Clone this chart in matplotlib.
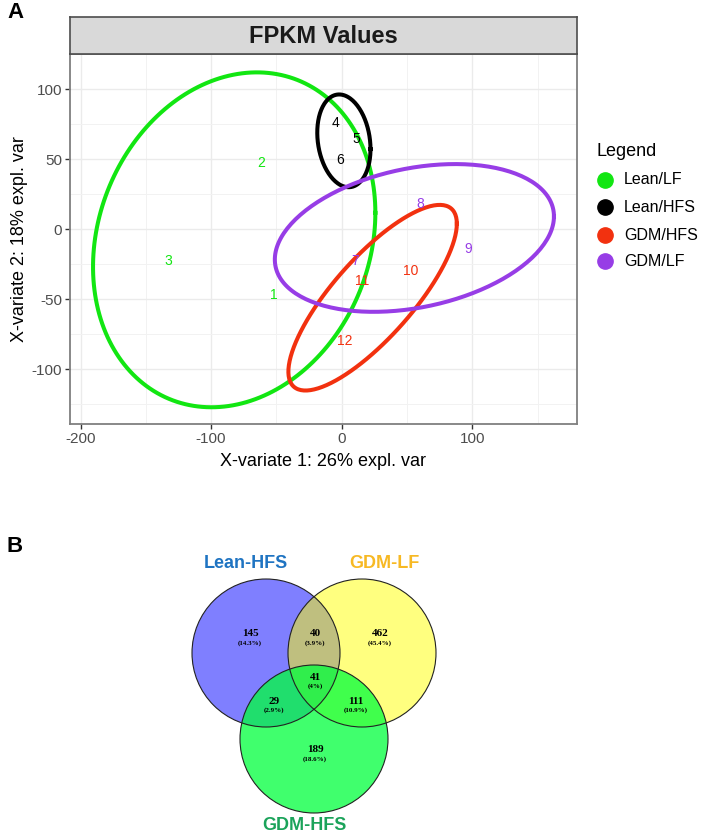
import numpy as np
import matplotlib
matplotlib.use('Agg')
import matplotlib.pyplot as plt
from matplotlib.patches import Circle

plt.rcParams['font.family'] = ['Liberation Sans', 'DejaVu Sans']
plt.rcParams['axes.unicode_minus'] = False

# ---- panel A data: sample scores on the two X-variates ----
sample_ids = ['1', '2', '3', '4', '5', '6', '7', '8', '9', '10', '11', '12']
xvar1 = [-52, -62, -133, -5, 11, -1, 10, 60, 97, 53, 16, 2]
xvar2 = [-47, 47, -23, 76, 64, 49, -23, 18, -14, -30, -37, -80]
groups = ['Lean/LF'] * 3 + ['Lean/HFS'] * 3 + ['GDM/LF'] * 3 + ['GDM/HFS'] * 3

legend_order = ['Lean/LF', 'Lean/HFS', 'GDM/HFS', 'GDM/LF']
group_colors = {'Lean/LF': '#12E612', 'Lean/HFS': '#000000',
                'GDM/HFS': '#F2310F', 'GDM/LF': '#973DE6'}

# ---- panel B data: venn counts ----
venn_names = ['Lean-HFS', 'GDM-LF', 'GDM-HFS']
venn_name_colors = ['#1F74C2', '#F7B924', '#1BA35A']
region_counts = [145, 40, 462, 29, 41, 111, 189]


def conf_ellipse(xs, ys, level=0.95, n=200):
    pts = np.column_stack([xs, ys]).astype(float)
    c = pts.mean(axis=0)
    cov = np.cov(pts.T)
    r = np.sqrt(-2 * np.log(1 - level))  # chi2 quantile, 2 dof
    L = np.linalg.cholesky(cov)
    t = np.linspace(0, 2 * np.pi, n)
    circ = np.vstack([np.cos(t), np.sin(t)])
    e = (L @ circ) * r
    return c[0] + e[0], c[1] + e[1]


fig = plt.figure(figsize=(7.14, 8.35), dpi=100)
W, H = 714, 835

ax = fig.add_axes([70 / W, 1 - 424 / H, 507 / W, 370 / H])
strip = fig.add_axes([70 / W, 1 - 54 / H, 507 / W, 37 / H])

xv = np.array(xvar1)
yv = np.array(xvar2)
gr = np.array(groups)
allx, ally = [], []
for g in legend_order:
    m = gr == g
    ex, ey = conf_ellipse(xv[m], yv[m])
    allx.append(ex)
    ally.append(ey)
    ax.plot(ex, ey, color=group_colors[g], lw=2.9, zorder=3)

for sid, x, y, g in zip(sample_ids, xvar1, xvar2, groups):
    ax.text(x, y, sid, color=group_colors[g], fontsize=10,
            ha='center', va='center', zorder=4)

allx = np.concatenate(allx)
ally = np.concatenate(ally)
dx = (allx.max() - allx.min()) * 0.05
dy = (ally.max() - ally.min()) * 0.05
ax.set_xlim(allx.min() - dx, allx.max() + dx)
ax.set_ylim(ally.min() - dy, ally.max() + dy)

ax.set_xticks([-200, -100, 0, 100])
ax.set_yticks([-100, -50, 0, 50, 100])
ax.set_xticks([-150, -50, 50, 150], minor=True)
ax.set_yticks([-125, -75, -25, 25, 75, 125], minor=True)
ax.grid(which='major', color='#EBEBEB', lw=1.0, zorder=0)
ax.grid(which='minor', color='#F2F2F2', lw=0.7, zorder=0)
ax.set_axisbelow(True)
ax.tick_params(which='major', length=3.5, width=1.0, color='#333333',
               labelsize=11, labelcolor='#4D4D4D', pad=2)
ax.tick_params(which='minor', length=0)
for s in ax.spines.values():
    s.set_color('#7F7F7F')
    s.set_linewidth(1.3)
ax.set_xlabel('X-variate 1: 26% expl. var', fontsize=13, labelpad=5)
ax.set_ylabel('X-variate 2: 18% expl. var', fontsize=13, labelpad=3)

strip.set_facecolor('#D9D9D9')
strip.set_xticks([])
strip.set_yticks([])
for s in strip.spines.values():
    s.set_color('#4D4D4D')
    s.set_linewidth(1.2)
strip.text(0.5, 0.48, 'FPKM Values', fontsize=17, fontweight='bold',
           color='#1A1A1A', ha='center', va='center', transform=strip.transAxes)

# overlay in pixel coordinates for legend, panel letters and venn
over = fig.add_axes([0, 0, 1, 1], zorder=5)
over.set_xlim(0, W)
over.set_ylim(H, 0)
over.axis('off')
over.patch.set_alpha(0)

over.text(597, 152, 'Legend', fontsize=13, ha='left', va='center')
leg_y = [180, 207, 235, 261]
for g, y in zip(legend_order, leg_y):
    over.plot(605, y, 'o', color=group_colors[g], markersize=11)
    over.text(624, y, g, fontsize=11.5, ha='left', va='center')

over.text(16, 13, 'A', fontsize=16, fontweight='bold', ha='center', va='center')
over.text(15, 546, 'B', fontsize=16, fontweight='bold', ha='center', va='center')

# venn
R = 74
centers = [(266, 653), (362, 653), (314, 739)]
fills = [('#0000FF', 0.5), ('#FFFF00', 0.5), ('#00FF3C', 0.75)]
for (cx, cy), (fc, a) in zip(centers, fills):
    over.add_patch(Circle((cx, cy), R, facecolor=fc, alpha=a, edgecolor='none'))
for cx, cy in centers:
    over.add_patch(Circle((cx, cy), R, facecolor='none', edgecolor='#222222', lw=0.8))

name_pos = [(246, 564), (384, 564), (304, 825)]
for name, col, (px, py) in zip(venn_names, venn_name_colors, name_pos):
    over.text(px, py, name, color=col, fontsize=13, fontweight='bold',
              ha='center', va='center')

total = sum(region_counts)
region_pos = [(250, 635), (315, 635), (380, 635), (274, 702),
              (315, 678), (356, 702), (315, 751)]
for cnt, (px, py) in zip(region_counts, region_pos):
    pct = round(100 * cnt / total, 1)
    over.text(px, py - 1, str(cnt), family='Liberation Serif', fontweight='bold',
              fontsize=8, ha='center', va='center')
    over.text(px, py + 8, '(%s%%)' % format(pct, 'g'), family='Liberation Serif',
              fontweight='bold', fontsize=5, ha='center', va='center')

fig.savefig('out.png', dpi=100)
